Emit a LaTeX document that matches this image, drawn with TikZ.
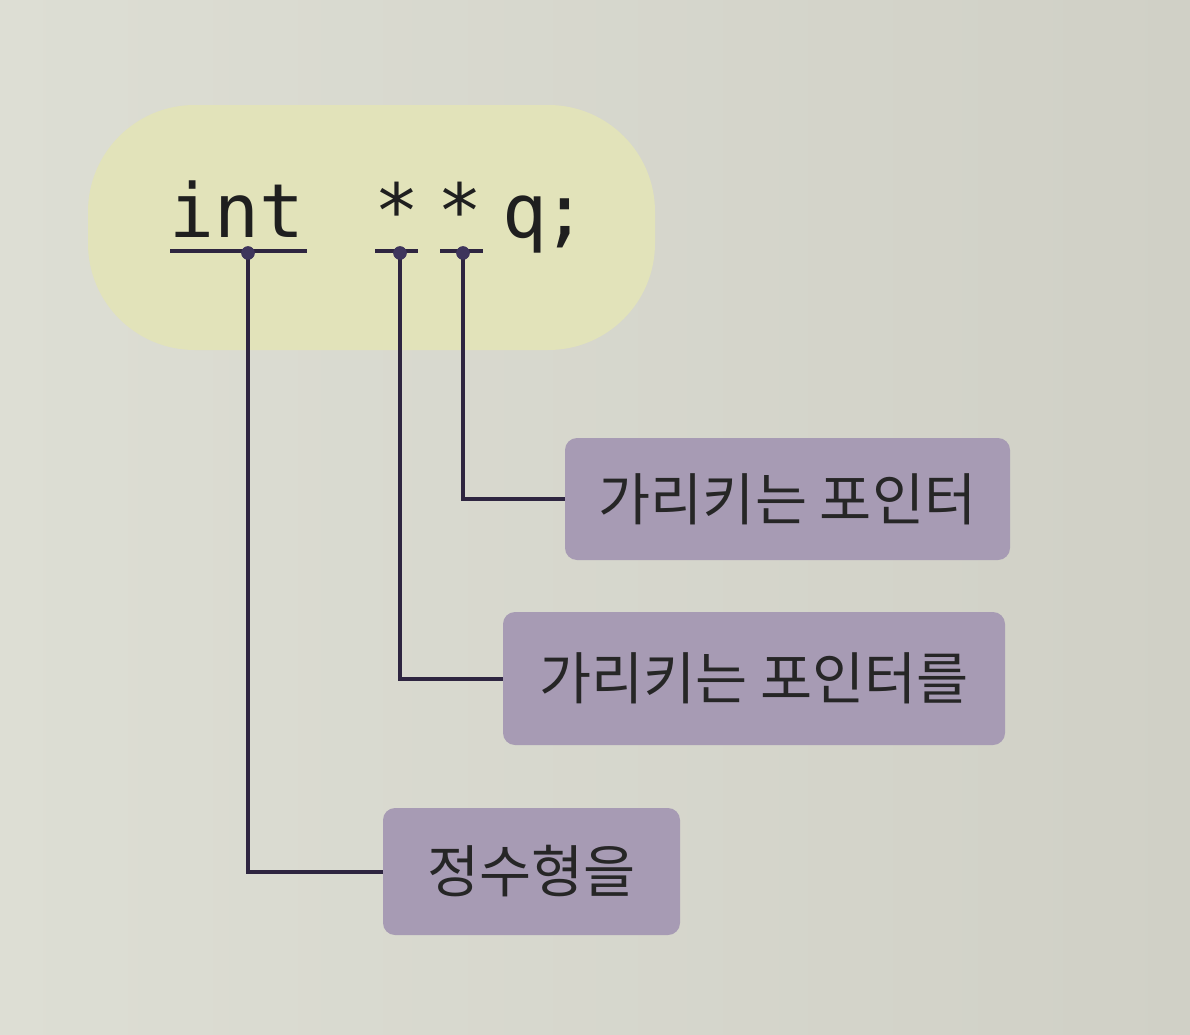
\documentclass[tikz,border=0pt]{standalone}
\usepackage{fontspec}
\setmonofont{DejaVu Sans Mono}
\newfontfamily\kr{Noto Sans CJK KR}
\definecolor{page}{HTML}{DDDED4}
\definecolor{pageR}{HTML}{D0D0C6}
\definecolor{blob}{HTML}{E2E3BA}
\definecolor{boxfill}{HTML}{A79BB4}
\definecolor{ink}{HTML}{2E2540}
\definecolor{dotc}{HTML}{3E355C}
\tikzset{
  code/.style={font=\ttfamily\fontsize{56}{60}\selectfont, text=black!88, inner sep=0pt, anchor=base},
  label/.style={fill=boxfill, rounded corners=9pt, inner sep=0pt, font=\kr\fontsize{42.5}{46}\selectfont, text=black!85},
  dot/.style={circle, fill=dotc, inner sep=0pt, minimum size=10pt},
  uline/.style={line width=3pt, draw=ink},
  conn/.style={line width=3pt, draw=ink}
}
\begin{document}
\begin{tikzpicture}[x=0.75pt,y=-0.75pt]
\useasboundingbox (0,0) rectangle (1190,1035);
\shade[left color=page, right color=pageR] (0,0) rectangle (1190,1035);
\fill[blob] (88,105) [rounded corners=80pt] rectangle (655,350);
% code text
\node[code] (tint) at (237,237) {int};
\node[code] (tst1) at (397,237) {*};
\node[code] (tst2) at (460,237) {*};
\node[code] (tq) at (525,237) {q};
\node[code] (tsc) at (565,237) {;};
% underlines
\coordinate (u1a) at (170,251); \coordinate (u1b) at (307,251);
\coordinate (u2a) at (375,251); \coordinate (u2b) at (418,251);
\coordinate (u3a) at (440,251); \coordinate (u3b) at (483,251);
\draw[uline] (u1a) -- (u1b);
\draw[uline] (u2a) -- (u2b);
\draw[uline] (u3a) -- (u3b);
% labels
\node[label, minimum width=333.75pt, minimum height=91.5pt] (b1) at (787.5,499) {가리키는 포인터};
\node[label, minimum width=376.5pt, minimum height=99.75pt] (b2) at (754,678.5) {가리키는 포인터를};
\node[label, minimum width=222.75pt, minimum height=95.25pt] (b3) at (531.5,871.5) {정수형을};
% dots
\node[dot] (d1) at (248,253) {};
\node[dot] (d2) at (400,253) {};
\node[dot] (d3) at (463,253) {};
% connectors
\draw[conn] (d3.center) |- (b1.west);
\draw[conn] (d2.center) |- (b2.west);
\draw[conn] (d1.center) |- (b3.west);
\node[dot] at (d1) {};
\node[dot] at (d2) {};
\node[dot] at (d3) {};
\end{tikzpicture}
\end{document}
